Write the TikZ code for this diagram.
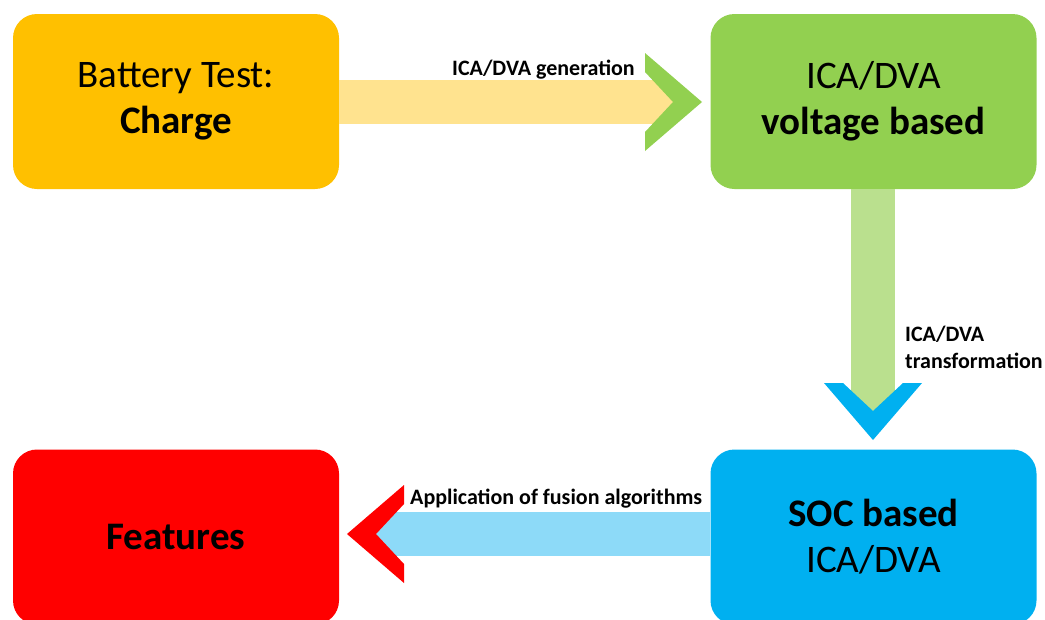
\documentclass[tikz,border=0pt]{standalone}
\usepackage{fontspec}
\setmainfont{Carlito}
\definecolor{boxorange}{HTML}{FFC000}
\definecolor{boxgreen}{HTML}{92D050}
\definecolor{boxblue}{HTML}{00B0F0}
\definecolor{boxred}{HTML}{FF0000}
\definecolor{barorange}{HTML}{FFE38F}
\definecolor{bargreen}{HTML}{BAE08E}
\definecolor{barblue}{HTML}{8DDAF8}
\tikzset{
  block/.style={rectangle, rounded corners=24pt, minimum width=326pt, minimum height=175pt,
    inner sep=0pt, align=center, font=\fontsize{39}{46}\selectfont},
  flowbar/.style={line width=44pt, line cap=butt},
  steplabel/.style={font=\fontsize{22}{26.6}\selectfont\bfseries, inner sep=0pt, align=left}
}
\newcommand{\block}[5]{\node[block, fill=#4] (#1) at (#2,#3) {#5};}
\newcommand{\chevron}[4]{\fill[#4, shift={(#1,#2)}, rotate=#3] (-57,-49) -- (0,0) -- (-57,49) -- (-57,30) -- (-29,0) -- (-57,-30) -- cycle;}
\newcommand{\linkbar}[3]{\draw[flowbar,#3] (#1) -- (#2);}
\begin{document}
\begin{tikzpicture}[x=1pt,y=-1pt]
    \useasboundingbox (0,0) rectangle (1045,619);
    \block{charge}{176}{101.5}{boxorange}{Battery Test:\\\textbf{Charge}}
    \block{voltage}{873.5}{101.5}{boxgreen}{ICA/DVA\\\textbf{voltage based}}
    \block{soc}{873.5}{537}{boxblue}{\textbf{SOC based}\\ICA/DVA}
    \block{features}{176}{537}{boxred}{\textbf{Features}}
    \coordinate (n1) at (673,102); \coordinate (n2) at (873,411);
    \coordinate (n3) at (376,534);
    \linkbar{charge.east |- n1}{n1}{barorange}
    \linkbar{voltage.south -| n2}{n2}{bargreen}
    \linkbar{soc.west |- n3}{n3}{barblue}
    \chevron{702}{102}{0}{boxgreen}
    \chevron{873}{440}{-90}{boxblue}
    \chevron{347}{534}{180}{boxred}
    \node[steplabel, anchor=base east] (genlabel) at (635,75) {ICA/DVA generation};
    \node[steplabel, anchor=west] (translabel) at (905,347.5) {ICA/DVA\\transformation};
    \node[steplabel, anchor=base west] (fuslabel) at (410,504) {Application of fusion algorithms};
\end{tikzpicture}
\end{document}
